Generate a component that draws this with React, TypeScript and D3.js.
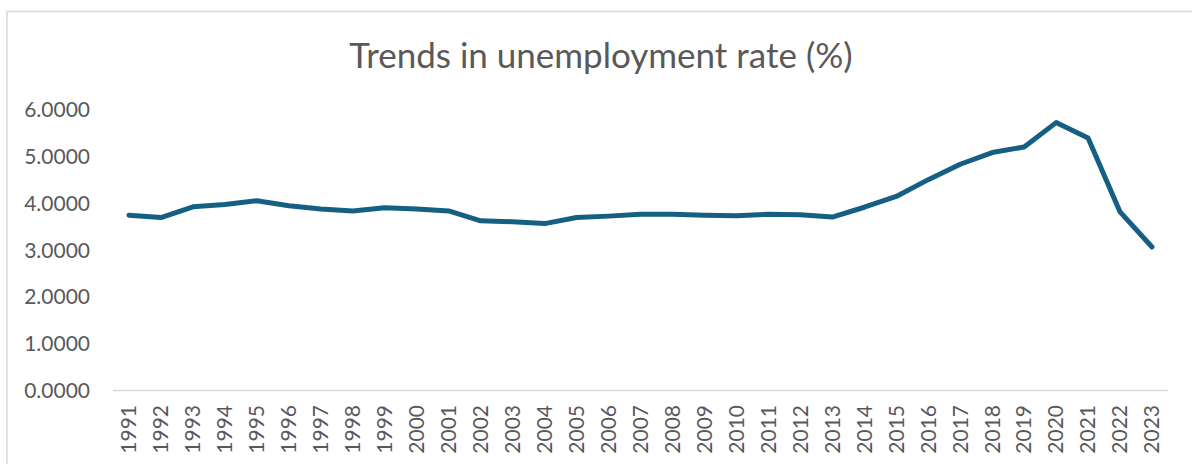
import React from "react";
import * as d3 from "d3";

const years: string[] = [
  "1991","1992","1993","1994","1995","1996","1997","1998","1999","2000",
  "2001","2002","2003","2004","2005","2006","2007","2008","2009","2010",
  "2011","2012","2013","2014","2015","2016","2017","2018","2019","2020",
  "2021","2022","2023",
];
const rates: number[] = [
  3.75, 3.70, 3.93, 3.98, 4.06, 3.95, 3.88, 3.84, 3.91, 3.88,
  3.84, 3.63, 3.61, 3.57, 3.70, 3.73, 3.77, 3.77, 3.75, 3.74,
  3.77, 3.76, 3.71, 3.92, 4.15, 4.51, 4.84, 5.09, 5.21, 5.73,
  5.40, 3.82, 3.07,
];
const yTicks: number[] = [0, 1, 2, 3, 4, 5, 6];
const title = "Trends in unemployment rate (%)";

const W = 1192;
const H = 464;
const FONT = "Lato, 'Open Sans', sans-serif";
const TEXT = "#595959";

export default function App() {
  const x = d3.scaleBand<string>().domain(years).range([113, 1168]);
  const y = d3.scaleLinear().domain([0, 6]).range([390.5, 110]);
  const line = d3
    .line<number>()
    .x((_, i) => (x(years[i]) as number) + x.bandwidth() / 2)
    .y((d) => y(d));

  return (
    <svg
      width={W}
      height={H}
      style={{ position: "absolute", left: 0, top: 0, background: "#fff" }}
    >
      <rect x={7} y={11.5} width={1300} height={600} fill="#fff" stroke="#d9d9d9" strokeWidth={1.5} />
      <text
        x={601}
        y={68}
        textAnchor="middle"
        fontFamily={FONT}
        fontSize={35}
        fill={TEXT}
      >
        {title}
      </text>
      {yTicks.map((t) => (
        <text
          key={t}
          x={90}
          y={y(t)}
          dy="0.35em"
          textAnchor="end"
          fontFamily={FONT}
          fontSize={21}
          fill={TEXT}
        >
          {d3.format(".4f")(t)}
        </text>
      ))}
      <line x1={113} x2={1168} y1={390.5} y2={390.5} stroke="#d9d9d9" strokeWidth={1.5} />
      {years.map((yr) => {
        const cx = (x(yr) as number) + x.bandwidth() / 2;
        return (
          <text
            key={yr}
            transform={`translate(${cx},405) rotate(-90)`}
            dy="0.35em"
            textAnchor="end"
            fontFamily={FONT}
            fontSize={21}
            fill={TEXT}
          >
            {yr}
          </text>
        );
      })}
      <path
        d={line(rates) || ""}
        fill="none"
        stroke="#156082"
        strokeWidth={5}
        strokeLinejoin="round"
        strokeLinecap="round"
      />
    </svg>
  );
}
